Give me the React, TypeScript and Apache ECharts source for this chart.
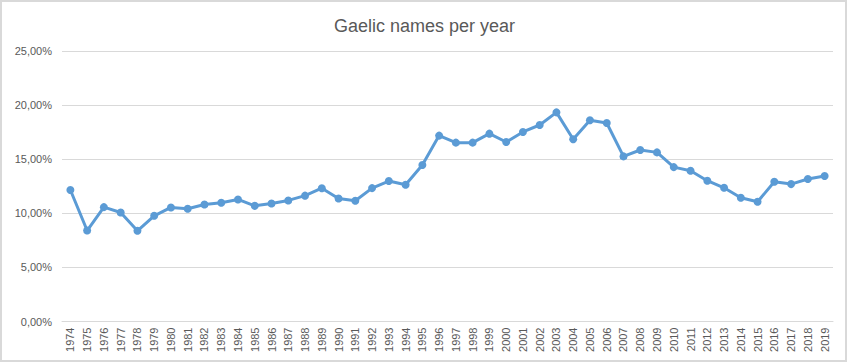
import React, { useEffect, useRef } from "react";
import * as echarts from "echarts";

const years = [
  "1974","1975","1976","1977","1978","1979","1980","1981","1982","1983",
  "1984","1985","1986","1987","1988","1989","1990","1991","1992","1993",
  "1994","1995","1996","1997","1998","1999","2000","2001","2002","2003",
  "2004","2005","2006","2007","2008","2009","2010","2011","2012","2013",
  "2014","2015","2016","2017","2018","2019",
];

const shares = [
  12.15, 8.41, 10.57, 10.07, 8.38, 9.77, 10.54, 10.42, 10.82, 10.97,
  11.28, 10.69, 10.91, 11.19, 11.63, 12.32, 11.37, 11.16, 12.33, 12.98,
  12.64, 14.46, 17.18, 16.53, 16.53, 17.36, 16.59, 17.52, 18.16, 19.33,
  16.84, 18.6, 18.35, 15.26, 15.85, 15.63, 14.27, 13.94, 13.01, 12.36,
  11.44, 11.06, 12.92, 12.7, 13.17, 13.44,
];

const yTicks = [0, 5, 10, 15, 20, 25];

const fmt = (v: number) => v.toFixed(2).replace(".", ",") + "%";

export default function App() {
  const ref = useRef<HTMLDivElement>(null);
  useEffect(() => {
    if (!ref.current) return;
    const chart = echarts.init(ref.current, null, { renderer: "svg" });
    const font = "'Liberation Sans', Arial, sans-serif";
    chart.setOption({
      animation: false,
      backgroundColor: "#ffffff",
      textStyle: { fontFamily: font },
      title: {
        text: "Gaelic names per year",
        left: "center",
        top: 12,
        textStyle: { fontFamily: font, fontSize: 18, fontWeight: "normal", color: "#595959" },
      },
      grid: { left: 62, right: 16, top: 51, bottom: 41.5 },
      xAxis: {
        type: "category",
        data: years,
        boundaryGap: true,
        axisLine: { lineStyle: { color: "#d9d9d9", width: 1 } },
        axisTick: { show: false },
        axisLabel: {
          rotate: 90,
          interval: 0,
          margin: 6,
          color: "#595959",
          fontSize: 11,
          fontFamily: font,
        },
      },
      yAxis: {
        type: "value",
        min: yTicks[0],
        max: yTicks[yTicks.length - 1],
        interval: 5,
        axisLine: { show: false },
        axisTick: { show: false },
        splitLine: { lineStyle: { color: "#d9d9d9", width: 1 } },
        axisLabel: {
          margin: 10,
          color: "#595959",
          fontSize: 11,
          fontFamily: font,
          formatter: (v: number) => fmt(v),
        },
      },
      series: [
        {
          type: "line",
          data: shares,
          symbol: "circle",
          symbolSize: 8,
          lineStyle: { color: "#5b9bd5", width: 3 },
          itemStyle: { color: "#5b9bd5" },
        },
      ],
    });
    return () => chart.dispose();
  }, []);
  return (
    <div style={{ position: "fixed", left: 0, top: 0, width: 849, height: 363, background: "#fff" }}>
      <div ref={ref} style={{ position: "absolute", left: 0, top: 0, width: 849, height: 363 }} />
      <div
        style={{
          position: "absolute",
          left: 0,
          top: 0,
          width: 847,
          height: 362,
          boxSizing: "border-box",
          border: "2px solid #d9d9d9",
          pointerEvents: "none",
        }}
      />
    </div>
  );
}
